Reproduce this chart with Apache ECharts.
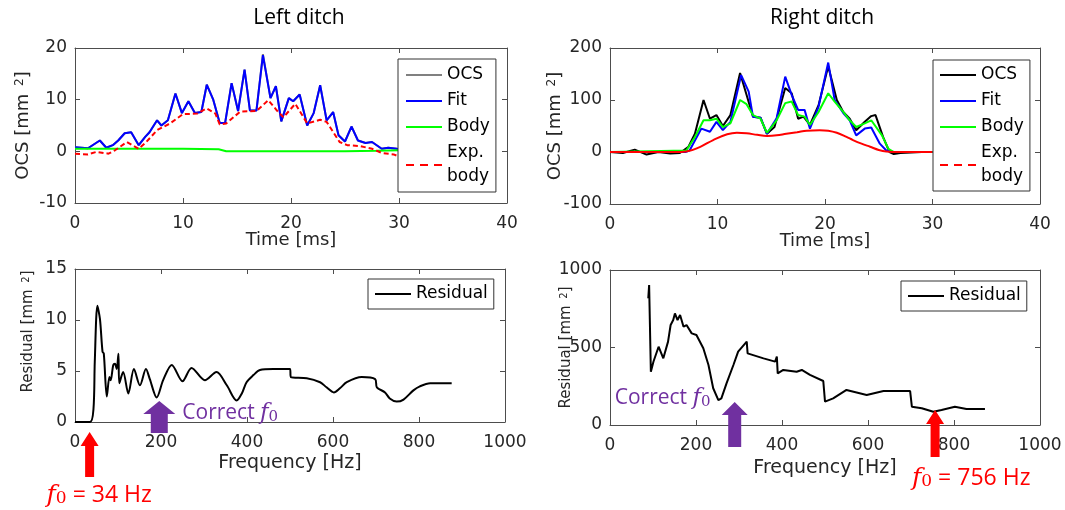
<!DOCTYPE html>
<html><head><meta charset="utf-8">
<script src="https://cdn.jsdelivr.net/npm/echarts@6/dist/echarts.min.js"></script>
<style>html,body{margin:0;padding:0;background:#fff}#c{width:1065px;height:510px}</style>
</head><body><div id="c"></div>
<script>
// ---------- Data ----------
// Top-left (Left ditch) : time [ms] / OCS [mm^2]
const tFitL = [0,1.2,2.3,2.9,3.5,4.0,4.6,5.2,5.9,6.5,6.9,7.6,8.0,8.6,9.3,9.9,10.5,11.1,11.7,12.2,12.8,13.4,13.9,14.5,15.1,15.7,16.2,16.8,17.4,18.1,18.6,19.1,19.8,20.2,20.8,21.5,22.1,22.7,23.3,23.9,24.4,25.0,25.6,26.2,26.9,27.5,28.4,29.0,29.8,30];
const ocsL   = [0.8,0.6,2.1,0.7,1.2,2.1,3.5,3.7,1.2,2.8,3.7,6.0,5.0,6.0,11.2,7.4,9.7,7.4,7.6,12.9,10.0,5.5,5.5,13.2,7.8,15.8,7.9,7.9,18.8,10.3,12.6,5.8,10.3,9.7,11.0,5.0,7.4,12.8,6.0,7.6,3.1,1.9,4.8,2.1,1.6,1.8,0.5,0.7,0.5,0.3];
const fitL   = [0.8,0.6,2.1,0.7,1.2,2.1,3.5,3.7,1.2,2.8,3.7,6.0,5.0,6.0,11.2,7.4,9.7,7.4,7.6,12.9,10.0,5.5,5.5,13.2,7.8,15.8,7.9,7.9,18.6,10.3,12.6,5.8,10.3,9.7,11.0,5.0,7.4,12.8,6.0,7.6,3.1,1.9,4.8,2.1,1.6,1.8,0.5,0.7,0.5,0.3];
const tBodyL = [0,5,10,13.3,14.0,20,25,28,30];
const bodyL  = [0.5,0.5,0.5,0.4,0.0,0.0,0.0,0.1,0.2];
const tExpL  = [0,1.2,2.0,3.1,3.7,4.8,5.9,6.6,7.6,8.8,10.0,11.3,12.2,13.0,13.4,14.0,15.3,16.8,17.9,18.7,19.3,20.4,21.5,22.7,23.3,24.5,25.2,26.4,27.5,28.4,29.5,30];
const expL   = [-0.45,-0.6,-0.1,-0.45,0.2,1.8,0.5,1.8,4.1,5.4,7.2,7.3,8.3,7.3,5.2,5.4,7.7,7.8,9.9,7.9,6.6,9.2,5.4,6.1,5.7,1.8,1.2,1.0,0.5,-0.3,-0.6,-1.0];

// Top-right (Right ditch)
const tOcsR = [0,1.2,2.3,3.4,4.5,5.6,6.5,7.3,7.9,8.7,9.3,9.9,10.5,11.2,12.1,12.7,13.3,14.0,14.6,15.3,16.3,16.9,17.5,18.0,18.6,19.4,20.3,21.1,21.7,22.3,22.9,23.7,24.3,24.7,25.4,26.0,26.4,27.0,28,29,30];
const ocsR  = [0,-2,4.5,-5,0,-3,-2,10,35,100,64,71,50,71,152,110,68,66,35,48,123,113,64,68,52,90,165,100,77,64,42,58,69,71,29,0,-4,-2,-1,0,0];
const tFitR = [0,7.0,7.4,8.5,9.3,9.9,10.5,11.2,12.2,12.9,13.3,14.0,14.6,15.5,16.3,16.9,17.5,18.1,18.6,19.4,20.3,20.9,21.7,22.3,22.9,23.7,24.3,25.1,25.7,26.4,30];
const fitR  = [0,0,3,45,39,58,42,58,148,116,68,66,35,65,145,110,81,81,45,87,172,100,75,61,32,45,47,16,3,0,0];
const tBodyR = [0,7.1,7.9,8.7,9.3,9.9,10.5,11.2,12.1,12.7,13.3,14.0,14.6,15.5,16.3,16.9,17.5,18.1,18.6,19.4,20.3,20.9,21.7,22.3,22.9,23.7,24.3,25.3,25.9,26.4,30];
const bodyR  = [0,3,29,61,61,64,48,55,100,92,71,64,37,61,94,97,71,68,52,77,113,97,77,61,48,55,61,32,6,0,0];
const tExpR = [0,6.0,7.1,8.4,9.6,10.9,11.8,12.7,13.7,14.6,15.5,16.4,17.4,18.3,19.5,20.3,21.1,22.0,22.6,23.4,24.2,25.0,25.7,27,30];
const expR  = [0,0,1,10,23,34,37,36,33,31,32,35,38,41,42,41,37,29,23,16,10,4,1,0,0];

// Bottom-left residual
const freqResL = [0,35,43,46,52,58,64,67,74,80,83,89,93,97,101,103,112,124,137,151,165,174,190,205,225,250,271,302,329,353,376,388,399,415,430,461,500,502,539,570,585,602,616,632,667,698,702,721,732,748,764,787,802,826,876];
const resL     = [0,0,1.3,5.9,11.4,10.1,6.9,6.7,2.5,4.4,4.1,5.6,5.7,5.2,6.7,3.8,4.9,2.8,5.2,3.6,5.2,4.2,2.4,4.1,5.6,4.0,5.3,4.1,4.9,3.6,2.1,2.8,3.9,4.6,5.1,5.2,5.2,4.4,4.3,3.9,3.4,2.9,3.3,3.9,4.4,4.2,3.4,2.9,2.3,2.0,2.2,3.1,3.5,3.8,3.8];
// Bottom-right residual
const freqResR = [89,91,95,101,113,124,135,141,147,151,157,163,171,178,190,201,217,229,240,252,259,271,287,298,318,320,357,384,388,390,403,434,446,465,496,500,519,550,597,636,698,702,725,752,771,802,829,872];
const resR     = [817,903,344,408,505,430,538,645,677,720,677,710,634,645,591,581,495,387,237,161,172,269,387,473,538,462,430,409,441,333,355,344,355,323,284,151,172,226,194,219,219,118,108,86,97,118,103,103];

// Annotations (frequency in Hz)
const f0LeftFound = 34, f0LeftCorrect = 196, f0RightCorrect = 290, f0RightFound = 756;
const titles = ['Left ditch', 'Right ditch'];

// ---------- Chart ----------
const zip = (a, b) => a.map((v, i) => [v, b[i]]);
const TICK = '#262626', AX = '#4d4d4d';
const labelFont = {fontFamily: 'DejaVu Sans', fontSize: 17, color: TICK, formatter: v => String(v)};

function axesX(g, min, max, interval, name, nameGap, nameSize) {
  return [
    {gridIndex: g, type: 'value', min, max, interval, name, nameLocation: 'middle', nameGap, nameMoveOverlap: false,
     nameTextStyle: {fontFamily: 'DejaVu Sans', fontSize: nameSize, color: TICK},
     axisLine: {show: true, onZero: false, lineStyle: {color: AX}},
     axisTick: {inside: true, length: 5, lineStyle: {color: AX}},
     axisLabel: Object.assign({margin: 12}, labelFont), splitLine: {show: false}},
    {gridIndex: g, type: 'value', position: 'top', min, max, interval,
     axisLine: {show: true, onZero: false, lineStyle: {color: AX}},
     axisTick: {inside: true, length: 5, lineStyle: {color: AX}},
     axisLabel: {show: false}, splitLine: {show: false}}
  ];
}
function axesY(g, min, max, interval, name, nameGap, nameSize, shift) {
  return [
    {gridIndex: g, type: 'value', min, max, interval, name: (shift ? '{gap| }' : '') + name,
     nameLocation: 'middle', nameGap, nameMoveOverlap: false,
     nameTextStyle: {fontFamily: 'DejaVu Sans', fontSize: nameSize, color: TICK,
       rich: {sup: {fontFamily: 'DejaVu Sans', fontSize: Math.round(nameSize * 0.67), color: TICK, verticalAlign: 'top', padding: [0, 0, 0, 2]},
              gap: {width: shift, fontSize: nameSize}}},
     axisLine: {show: true, onZero: false, lineStyle: {color: AX}},
     axisTick: {inside: true, length: 5, lineStyle: {color: AX}},
     axisLabel: Object.assign({margin: 8}, labelFont), splitLine: {show: false}},
    {gridIndex: g, type: 'value', position: 'right', min, max, interval,
     axisLine: {show: true, onZero: false, lineStyle: {color: AX}},
     axisTick: {inside: true, length: 5, lineStyle: {color: AX}},
     axisLabel: {show: false}, splitLine: {show: false}}
  ];
}
function line(name, g, data, color, extra) {
  return Object.assign({type: 'line', name, xAxisIndex: 2 * g, yAxisIndex: 2 * g, data,
    symbol: 'none', lineStyle: {color, width: 2}, itemStyle: {color}, animation: false, z: 3}, extra || {});
}
const SOLID = 'rect';
const DASHED = 'path://M0,0h8v2h-8z M14,0h8v2h-8z M28,0h8v2h-8z';
const legendText = {fontFamily: 'DejaVu Sans', fontSize: 17, color: '#000', lineHeight: 24};
function legend(left, top, data, pad) {
  return {left, top, orient: 'vertical', data, selectedMode: false, itemWidth: 36, itemHeight: 2,
    itemGap: 2, padding: pad, borderColor: '#333', borderWidth: 1, backgroundColor: '#fff',
    textStyle: legendText, formatter: n => n === 'Exp. body' ? 'Exp.\nbody' : n};
}
const li = (name, color, icon) => ({name, icon, itemStyle: {color, borderWidth: 0}});

const chart = echarts.init(document.getElementById('c'), null, {renderer: 'canvas'});
chart.setOption({
  animation: false,
  grid: [
    {left: 75, top: 48, width: 432, height: 155},
    {left: 610, top: 48, width: 430, height: 156},
    {left: 75, top: 269, width: 430, height: 153},
    {left: 610, top: 270, width: 430, height: 155}
  ],
  xAxis: [].concat(
    axesX(0, 0, 40, 10, 'Time [ms]', 28, 18),
    axesX(1, 0, 40, 10, 'Time [ms]', 28, 18),
    axesX(2, 0, 1000, 200, 'Frequency [Hz]', 32, 19),
    axesX(3, 0, 1000, 200, 'Frequency [Hz]', 34, 19)),
  yAxis: [].concat(
    axesY(0, -10, 20, 10, 'OCS [mm {sup|2}]', 43, 18, 0),
    axesY(1, -100, 200, 100, 'OCS [mm {sup|2}]', 46, 18, 0),
    axesY(2, 0, 15, 5, 'Residual [mm {sup|2}]', 39, 15, 28),
    axesY(3, 0, 1000, 500, 'Residual [mm {sup|2}]', 36, 15, 0)),
  legend: [
    legend(398, 59, [li('OCS', '#808080', SOLID), li('Fit', '#0000ff', SOLID), li('Body', '#00ff00', SOLID), li('Exp. body', '#ff0000', DASHED)], [4, 6, 3, 8]),
    legend(933, 60, [li('OCS', '#000000', SOLID), li('Fit', '#0000ff', SOLID), li('Body', '#00ff00', SOLID), li('Exp. body', '#ff0000', DASHED)], [3, 6, 2, 7]),
    legend(368, 279, [li('Residual', '#000000', SOLID)], [3, 6, 3, 7]),
    legend(901, 281, [li('Residual', '#000000', SOLID)], [3, 6, 3, 7])
  ],
  series: [
    line('OCS', 0, zip(tFitL, ocsL), '#808080'),
    line('Fit', 0, zip(tFitL, fitL), '#0000ff'),
    line('Body', 0, zip(tBodyL, bodyL), '#00ff00'),
    line('Exp. body', 0, zip(tExpL, expL), '#ff0000', {lineStyle: {color: '#ff0000', width: 2, type: [5, 3]}}),
    line('OCS', 1, zip(tOcsR, ocsR), '#000000'),
    line('Fit', 1, zip(tFitR, fitR), '#0000ff'),
    line('Body', 1, zip(tBodyR, bodyR), '#00ff00'),
    line('Exp. body', 1, zip(tExpR, expR), '#ff0000', {smooth: 0.4}),
    line('Residual', 2, zip(freqResL, resL), '#000000', {smooth: 0.3}),
    line('Residual', 3, zip(freqResR, resR), '#000000')
  ]
});

// ---------- Annotations ----------
function arrow(cx, yTip, yBot, hw, hh, sw, color) {
  return {type: 'polygon', z: 10, silent: true,
    shape: {points: [[cx, yTip], [cx + hw / 2, yTip + hh], [cx + sw / 2, yTip + hh], [cx + sw / 2, yBot],
      [cx - sw / 2, yBot], [cx - sw / 2, yTip + hh], [cx - hw / 2, yTip + hh]]},
    style: {fill: color}};
}
function label(x, y, text, color, size) {
  return {type: 'text', x, y, z: 10, silent: true,
    style: {text, fill: color, fontFamily: 'Open Sans', fontSize: size, verticalAlign: 'middle', align: 'left',
      rich: {
        i: {fontFamily: 'DejaVu Serif', fontStyle: 'italic', fontSize: size + 2, fill: color, color: color},
        s: {fontFamily: 'DejaVu Serif', fontSize: size - 6, fill: color, color: color, verticalAlign: 'bottom', padding: [8, 0, 0, 0]},
        t: {fontFamily: 'Open Sans', fontSize: size, fill: color, color: color}
      }}};
}
const RED = '#ff0000', PURPLE = '#7030a0';
const xL = v => chart.convertToPixel({xAxisIndex: 4}, v);
const xR = v => chart.convertToPixel({xAxisIndex: 6}, v);
const yL0 = chart.convertToPixel({yAxisIndex: 4}, 0);
const yR0 = chart.convertToPixel({yAxisIndex: 6}, 0);
const gLR = xL(f0LeftFound), gLC = xL(f0LeftCorrect), gRC = xR(f0RightCorrect), gRR = xR(f0RightFound);

chart.setOption({
  graphic: [
    {type: 'text', x: 299, y: 18, style: {text: titles[0], fontFamily: 'Open Sans', fontSize: 21, fill: '#000', align: 'center', verticalAlign: 'middle'}},
    {type: 'text', x: 822, y: 18, style: {text: titles[1], fontFamily: 'Open Sans', fontSize: 21, fill: '#000', align: 'center', verticalAlign: 'middle'}},
    arrow(gLR, yL0 + 10, yL0 + 55, 18, 14, 9, RED),
    arrow(gLC, yL0 - 21, yL0 + 11, 32, 13, 17, PURPLE),
    arrow(gRC, yR0 - 23, yR0 + 22, 26, 13, 13, PURPLE),
    arrow(gRR, yR0 - 15, yR0 + 32, 18, 14, 9, RED),
    label(gLR - 43, yL0 + 73, '{i|f}{s|0}{t| = 34 Hz}', RED, 23),
    label(gLC + 23, yL0 - 9, '{t|Correct }{i|f}{s|0}', PURPLE, 21),
    label(gRC - 120, yR0 - 27, '{t|Correct }{i|f}{s|0}', PURPLE, 21),
    label(gRR - 23, yR0 + 53, '{i|f}{s|0}{t| = 756 Hz}', RED, 23)
  ]
});
</script></body></html>
